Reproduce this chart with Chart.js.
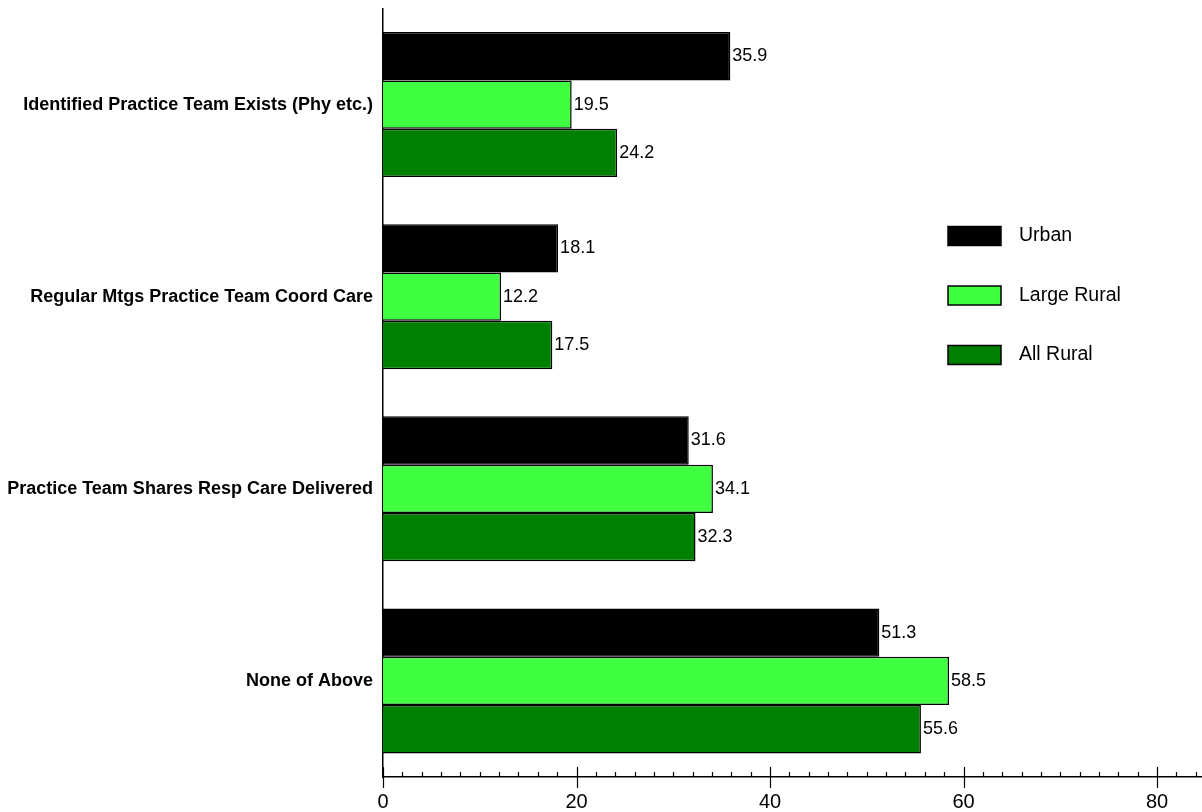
<!DOCTYPE html>
<html>
<head>
<meta charset="utf-8">
<script src="https://cdn.jsdelivr.net/npm/chart.js@4"></script>
<style>
html,body{margin:0;padding:0;background:#fff;}
#wrap{width:1202px;height:812px;position:relative;}
</style>
</head>
<body>
<div id="wrap"><canvas id="c" width="1202" height="812"></canvas></div>
<script>
const categories = [
  "Identified Practice Team Exists (Phy etc.)",
  "Regular Mtgs Practice Team Coord Care",
  "Practice Team Shares Resp Care Delivered",
  "None of Above"
];
const seriesNames = ["Urban", "Large Rural", "All Rural"];
const urban = [35.9, 18.1, 31.6, 51.3];
const largeRural = [19.5, 12.2, 34.1, 58.5];
const allRural = [24.2, 17.5, 32.3, 55.6];
const xTicks = [0, 20, 40, 60, 80];
const colors = ["#000000", "#40FF40", "#008000"];

const FONT = "'Liberation Sans', Arial, Helvetica, sans-serif";

const valueLabels = {
  id: 'valueLabels',
  afterDatasetsDraw(chart) {
    const ctx = chart.ctx;
    ctx.save();
    ctx.font = "18px " + FONT;
    ctx.fillStyle = "#000";
    ctx.textAlign = "left";
    ctx.textBaseline = "middle";
    chart.data.datasets.forEach((ds, i) => {
      const meta = chart.getDatasetMeta(i);
      meta.data.forEach((bar, j) => {
        ctx.fillText(ds.data[j].toFixed(1), bar.x + 2, bar.y);
      });
    });
    ctx.restore();
  }
};

const axisTicks = {
  id: 'axisTicks',
  afterDraw(chart) {
    const ctx = chart.ctx;
    const xs = chart.scales.x;
    const y0 = chart.chartArea.bottom;
    ctx.save();
    ctx.strokeStyle = "#000";
    ctx.lineWidth = 1.2;
    ctx.beginPath();
    for (let v = 0; v <= xs.max; v += 2) {
      const px = Math.round(xs.getPixelForValue(v)) + 0.5;
      if (v % 20 === 0) {
        ctx.moveTo(px, y0 - 10);
        ctx.lineTo(px, y0 + 11);
      } else {
        ctx.moveTo(px, y0 - 5);
        ctx.lineTo(px, y0);
      }
    }
    ctx.stroke();
    ctx.restore();
  }
};

const customLegend = {
  id: 'customLegend',
  afterDraw(chart) {
    const ctx = chart.ctx;
    ctx.save();
    chart.data.datasets.forEach((ds, i) => {
      const cy = 236 + i * 59.5;
      ctx.fillStyle = ds.backgroundColor;
      ctx.fillRect(948, cy - 9.5, 53, 19);
      ctx.strokeStyle = "#000";
      ctx.lineWidth = 1.5;
      ctx.strokeRect(948, cy - 9.5, 53, 19);
      ctx.fillStyle = "#000";
      ctx.font = "19.5px " + FONT;
      ctx.textAlign = "left";
      ctx.textBaseline = "middle";
      ctx.fillText(ds.label, 1019, cy);
    });
    ctx.restore();
  }
};

const datasets = [urban, largeRural, allRural].map((d, i) => ({
  label: seriesNames[i],
  data: d,
  backgroundColor: colors[i],
  borderColor: "#000",
  borderWidth: 1.5,
  borderSkipped: 'start',
  categoryPercentage: 0.755,
  barPercentage: 1.0
}));

new Chart(document.getElementById('c'), {
  type: 'bar',
  data: { labels: categories, datasets },
  options: {
    indexAxis: 'y',
    responsive: false,
    animation: false,
    layout: { padding: { top: 8.5, right: 0, left: 0, bottom: 0 } },
    plugins: { legend: { display: false }, tooltip: { enabled: false } },
    scales: {
      x: {
        min: 0,
        max: 84.65,
        afterFit(s) { s.height = 35; s.paddingLeft = 0; s.paddingRight = 0; },
        afterBuildTicks(s) { s.ticks = xTicks.map(v => ({ value: v })); },
        grid: { display: false, drawTicks: false },
        border: { display: true, color: "#000", width: 1.5 },
        ticks: { color: "#000", font: { family: FONT, size: 20 }, padding: 13, maxRotation: 0, autoSkip: false }
      },
      y: {
        afterFit(s) { s.width = 383; s.paddingTop = 0; s.paddingBottom = 0; },
        grid: { display: false, drawTicks: false },
        border: { display: true, color: "#000", width: 1.5 },
        ticks: { color: "#000", font: { family: FONT, size: 18, weight: 'bold' }, padding: 10 }
      }
    }
  },
  plugins: [valueLabels, axisTicks, customLegend]
});
</script>
</body>
</html>
